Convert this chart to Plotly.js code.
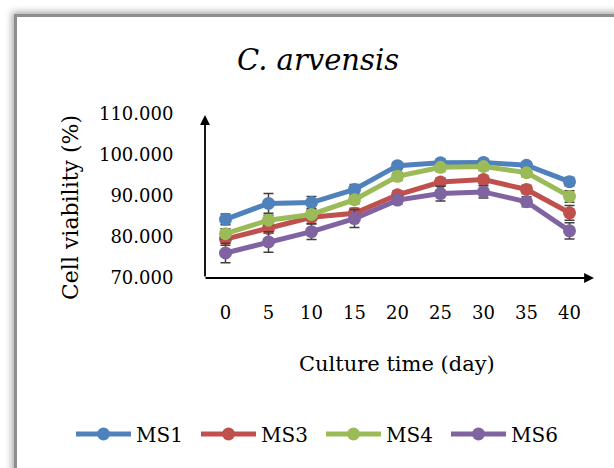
<!DOCTYPE html>
<html>
<head>
<meta charset="utf-8">
<script src="https://cdn.plot.ly/plotly-3.0.1.min.js"></script>
<style>
  html, body { margin: 0; padding: 0; background: #ffffff; overflow: hidden; }
  #wrap { position: relative; width: 614px; height: 468px; overflow: hidden; background: #ffffff; }
  #frame { position: absolute; left: 14px; top: 14px; width: 720px; height: 600px;
           background: #ffffff; border-left: 3px solid #8e8e8e; border-top: 3px solid #8e8e8e;
           box-shadow: -2px -2px 7px rgba(0,0,0,0.35); }
  #chart { position: absolute; left: 0; top: 0; width: 614px; height: 468px; }
</style>
</head>
<body>
<div id="wrap">
  <div id="frame"></div>
  <div id="chart"></div>
</div>
<script>
const days = [0, 5, 10, 15, 20, 25, 30, 35, 40];
const seriesNames = ['MS1', 'MS3', 'MS4', 'MS6'];
const ms1 = [84.3, 88.2, 88.4, 91.6, 97.4, 98.1, 98.2, 97.5, 93.5];
const ms3 = [79.5, 82.1, 84.8, 85.8, 90.3, 93.4, 94.0, 91.6, 85.9];
const ms4 = [80.8, 84.1, 85.5, 89.1, 94.8, 97.0, 97.2, 95.7, 89.9];
const ms6 = [76.1, 78.8, 81.3, 84.5, 89.0, 90.6, 91.0, 88.6, 81.5];
const ms1Err = [1.3, 2.4, 1.5, 1.2, 0.8, 0.8, 0.8, 0.8, 1.0];
const ms3Err = [1.5, 1.2, 1.5, 1.2, 1.0, 1.0, 1.0, 1.0, 1.8];
const ms4Err = [1.2, 1.2, 1.0, 1.0, 1.0, 1.0, 1.0, 1.0, 1.4];
const ms6Err = [2.4, 2.5, 1.9, 2.2, 1.0, 1.8, 1.5, 1.2, 2.0];
const yTicks = [70, 80, 90, 100, 110];

const colors = ['#4F81BD', '#C0504D', '#9BBB59', '#8064A2'];
const values = [ms1, ms3, ms4, ms6];
const errs = [ms1Err, ms3Err, ms4Err, ms6Err];

const font = 'DejaVu Serif, Liberation Serif, serif';

// page geometry (pixels)
const W = 614, H = 468;
const ML = 10, MR = 10, MT = 114, MB = 190;
const PW = W - ML - MR, PH = H - MT - MB;
const AX_L = 204, AX_R = 591;
const px2x = px => (px - ML) / PW;
const py2y = py => (H - MB - py) / PH;

const traces = seriesNames.map((name, i) => ({
  type: 'scatter',
  mode: 'lines+markers',
  name: name,
  x: days,
  y: values[i],
  line: { color: colors[i], width: 5 },
  marker: { color: colors[i], size: 13, symbol: 'circle' },
  error_y: { type: 'data', array: errs[i], visible: true, color: '#404040', thickness: 1.5, width: 5 }
}));

const layout = {
  width: W,
  height: H,
  paper_bgcolor: 'rgba(0,0,0,0)',
  plot_bgcolor: 'rgba(0,0,0,0)',
  margin: { l: ML, r: MR, t: MT, b: MB },
  showlegend: true,
  title: {
    text: '<i>C. arvensis</i>',
    font: { family: font, size: 29, color: '#000000' },
    xref: 'container', x: 0.518, xanchor: 'center',
    yref: 'container', y: 1 - 60 / H, yanchor: 'middle'
  },
  xaxis: {
    domain: [px2x(AX_L), px2x(AX_R)],
    range: [-2.5, 42.5],
    tickvals: days,
    ticktext: days.map(String),
    showline: false, showgrid: false, zeroline: false,
    ticks: 'outside', ticklen: 18, tickcolor: 'rgba(0,0,0,0)',
    tickfont: { family: font, size: 18, color: '#000000' },
    fixedrange: true
  },
  yaxis: {
    range: [70, 110],
    tickvals: yTicks,
    tickformat: '.3f',
    showline: false, showgrid: false, zeroline: false,
    ticks: 'outside', ticklen: 26, tickcolor: 'rgba(0,0,0,0)',
    tickfont: { family: font, size: 18, color: '#000000' },
    fixedrange: true
  },
  legend: {
    orientation: 'h',
    xref: 'paper', x: px2x(71), xanchor: 'left',
    yref: 'container', y: 1 - 434 / H, yanchor: 'middle',
    font: { family: font, size: 20, color: '#000000' },
    itemwidth: 55,
    entrywidth: 55,
    entrywidthmode: 'pixels',
    traceorder: 'normal',
    bgcolor: 'rgba(0,0,0,0)'
  },
  annotations: [
    {
      text: 'Cell viability (%)', textangle: -90, showarrow: false,
      xref: 'paper', yref: 'paper', x: px2x(70), y: py2y(208),
      xanchor: 'center', yanchor: 'middle',
      font: { family: font, size: 22, color: '#000000' }
    },
    {
      text: 'Culture time (day)', showarrow: false,
      xref: 'paper', yref: 'paper', x: px2x(397), y: py2y(364),
      xanchor: 'center', yanchor: 'middle',
      font: { family: font, size: 21, color: '#000000' }
    },
    {
      text: '', showarrow: true, arrowhead: 2, arrowsize: 1.1, arrowwidth: 1.8, arrowcolor: '#000000',
      xref: 'paper', yref: 'paper', x: px2x(205), y: py2y(115),
      ax: 0, ay: 163, standoff: 0, startstandoff: 0
    },
    {
      text: '', showarrow: true, arrowhead: 2, arrowsize: 1.1, arrowwidth: 1.8, arrowcolor: '#000000',
      xref: 'paper', yref: 'paper', x: px2x(594), y: py2y(278),
      ax: -390, ay: 0, standoff: 0, startstandoff: 0
    }
  ]
};

Plotly.newPlot('chart', traces, layout, { displayModeBar: false, staticPlot: true });
</script>
</body>
</html>
